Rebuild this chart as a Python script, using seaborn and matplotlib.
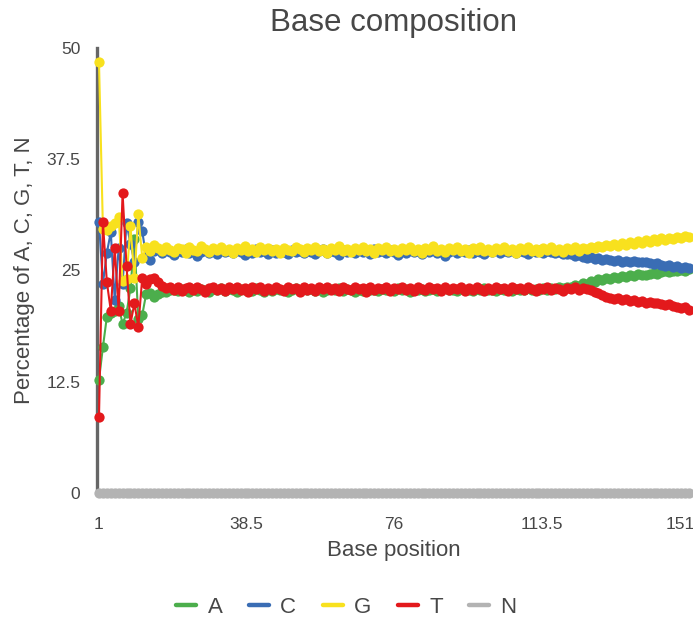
import numpy as np
import pandas as pd
import matplotlib
matplotlib.use("Agg")
import matplotlib.pyplot as plt
from matplotlib.lines import Line2D
from matplotlib.transforms import ScaledTranslation
import seaborn as sns

# Per-position base composition (%) for positions 1..151
positions = list(range(1, 152))

a_pct = [
    12.7, 16.4, 19.8, 20.2, 20.5, 21.0, 19.0, 20.2, 23.0, 28.5, 19.5, 20.0, 22.4, 22.5,
    22.0, 22.4, 22.6, 22.6, 22.8, 22.8, 22.7, 22.9, 22.8, 22.6,
    22.9, 22.7, 22.9, 22.8, 22.6, 22.9, 22.8, 23.0, 22.7, 22.9,
    22.8, 22.6, 22.9, 22.8, 22.8, 22.7, 23.0, 22.8, 22.6, 22.9,
    22.7, 22.9, 22.8, 22.8, 22.6, 22.8, 23.0, 22.7, 22.9, 22.8,
    22.9, 22.7, 22.9, 22.6, 22.8, 22.9, 22.8, 23.0, 22.7, 22.9,
    22.8, 22.6, 22.8, 22.7, 22.9, 22.8, 22.8, 22.7, 22.9, 22.8,
    22.8, 22.7, 23.0, 22.8, 22.9, 22.6, 22.8, 22.8, 22.9, 22.7,
    22.8, 22.9, 22.7, 22.8, 23.0, 22.8, 22.8, 22.7, 22.9, 22.8,
    22.8, 22.7, 22.9, 22.8, 23.0, 22.8, 22.8, 22.7, 22.9, 22.8,
    22.8, 22.7, 22.9, 22.8, 22.8, 23.0, 22.8, 22.9, 22.8, 23.0,
    22.8, 23.0, 22.9, 23.1, 23.0, 23.2, 23.1, 23.4, 23.3, 23.6,
    23.5, 23.8, 23.7, 24.0, 23.9, 24.2, 24.1, 24.3, 24.2, 24.4,
    24.3, 24.5, 24.4, 24.6, 24.5, 24.5, 24.6, 24.7, 24.6, 24.8,
    24.9, 24.8, 25.0, 25.0, 25.1, 25.0, 25.2,
]

c_pct = [
    30.4, 23.5, 27.0, 29.3, 21.7, 27.5, 23.5, 30.3, 28.0, 26.0, 30.5, 29.4, 26.5, 26.2,
    27.2, 27.4, 27.0, 27.3, 27.1, 26.7, 27.2, 27.1, 27.4, 27.0,
    27.2, 26.6, 27.1, 27.3, 27.0, 27.2, 26.9, 27.3, 27.1, 27.2,
    27.0, 27.3, 27.1, 26.7, 27.2, 27.0, 27.4, 27.1, 27.2, 26.9,
    27.3, 27.0, 27.2, 27.1, 26.9, 27.3, 27.1, 27.2, 27.0, 27.3,
    27.1, 26.9, 27.2, 27.4, 27.0, 27.2, 27.1, 26.7, 27.3, 27.1,
    27.2, 27.0, 27.3, 27.1, 27.2, 26.9, 27.4, 27.1, 27.2, 27.0,
    27.3, 27.1, 26.7, 27.2, 27.0, 27.3, 27.1, 27.2, 26.9, 27.2,
    27.1, 27.3, 27.0, 27.2, 26.6, 27.1, 27.3, 27.0, 27.2, 27.1,
    27.3, 27.0, 27.2, 27.1, 26.9, 27.2, 27.1, 27.3, 27.0, 27.2,
    27.1, 27.3, 27.0, 27.2, 27.1, 26.8, 27.2, 27.1, 27.3, 27.0,
    27.2, 27.1, 27.0, 27.1, 26.9, 26.8, 26.8, 26.6, 26.7, 26.5,
    26.4, 26.5, 26.3, 26.4, 26.2, 26.3, 26.2, 26.1, 26.2, 26.0,
    26.1, 26.0, 26.1, 25.9, 26.0, 25.9, 25.8, 25.7, 25.8, 25.6,
    25.5, 25.6, 25.4, 25.5, 25.3, 25.4, 25.3,
]

g_pct = [
    48.4, 29.7, 29.5, 30.0, 30.3, 31.0, 23.8, 24.0, 30.0, 24.2, 31.3, 26.4, 27.6, 27.2,
    27.9, 27.5, 27.2, 27.6, 27.3, 27.1, 27.5, 27.4, 27.0, 27.6,
    27.3, 27.2, 27.7, 27.4, 27.1, 27.5, 27.3, 27.6, 27.2, 27.4,
    27.0, 27.5, 27.3, 27.7, 27.2, 27.4, 27.1, 27.6, 27.3, 27.5,
    27.2, 27.4, 27.0, 27.5, 27.3, 27.2, 27.6, 27.4, 27.1, 27.5,
    27.3, 27.6, 27.2, 27.4, 27.0, 27.5, 27.3, 27.7, 27.2, 27.4,
    27.1, 27.5, 27.3, 27.6, 27.2, 27.4, 27.0, 27.5, 27.3, 27.6,
    27.2, 27.4, 27.1, 27.5, 27.3, 27.6, 27.2, 27.4, 27.0, 27.5,
    27.3, 27.7, 27.2, 27.4, 27.1, 27.5, 27.3, 27.6, 27.2, 27.4,
    27.0, 27.5, 27.3, 27.6, 27.2, 27.4, 27.1, 27.5, 27.3, 27.6,
    27.2, 27.4, 27.0, 27.5, 27.3, 27.6, 27.2, 27.4, 27.1, 27.5,
    27.3, 27.6, 27.2, 27.4, 27.1, 27.5, 27.3, 27.6, 27.2, 27.5,
    27.4, 27.6, 27.5, 27.8, 27.6, 27.9, 27.7, 28.0, 27.8, 28.1,
    27.9, 28.2, 28.0, 28.3, 28.1, 28.4, 28.2, 28.5, 28.3, 28.6,
    28.4, 28.6, 28.5, 28.8, 28.6, 28.9, 28.8,
]

t_pct = [
    8.5, 30.4, 23.7, 20.5, 27.5, 20.5, 33.7, 25.5, 19.0, 21.3, 18.7, 24.2, 23.5, 24.1,
    24.2, 23.7, 23.3, 23.0, 23.2, 22.8, 23.1, 22.7, 23.0, 23.2,
    22.8, 23.1, 22.9, 22.6, 23.0, 23.2, 22.8, 23.0, 22.7, 23.1,
    22.9, 23.2, 22.8, 23.0, 22.6, 23.1, 22.9, 23.2, 22.7, 23.0,
    22.8, 23.1, 22.9, 22.7, 23.2, 22.9, 23.0, 22.6, 23.1, 22.8,
    23.0, 22.7, 23.1, 22.9, 23.2, 22.8, 23.0, 22.7, 23.1, 22.9,
    22.8, 23.1, 22.9, 23.0, 22.6, 23.2, 22.8, 23.0, 22.9, 23.1,
    22.7, 23.0, 22.9, 23.2, 22.8, 23.0, 22.7, 23.1, 22.9, 22.8,
    23.1, 22.9, 23.0, 22.7, 23.2, 22.8, 23.0, 22.9, 23.1, 22.7,
    23.0, 22.8, 23.1, 22.9, 22.7, 23.0, 22.8, 23.1, 22.9, 23.0,
    22.7, 23.1, 22.9, 23.0, 22.8, 23.2, 22.9, 22.7, 23.0, 22.9,
    23.1, 22.8, 23.0, 22.9, 22.7, 23.0, 22.9, 23.1, 22.8, 23.0,
    22.9, 22.8, 22.6, 22.5, 22.2, 22.0, 21.9, 21.8, 21.9, 21.7,
    21.8, 21.6, 21.7, 21.5, 21.6, 21.4, 21.5, 21.3, 21.4, 21.2,
    21.1, 21.2, 21.0, 20.9, 20.8, 20.9, 20.6,
]

n_pct = [
    0, 0, 0, 0, 0, 0, 0, 0, 0, 0, 0, 0, 0, 0, 0, 0, 0, 0, 0, 0,
    0, 0, 0, 0, 0, 0, 0, 0, 0, 0, 0, 0, 0, 0, 0, 0, 0, 0, 0, 0,
    0, 0, 0, 0, 0, 0, 0, 0, 0, 0, 0, 0, 0, 0, 0, 0, 0, 0, 0, 0,
    0, 0, 0, 0, 0, 0, 0, 0, 0, 0, 0, 0, 0, 0, 0, 0, 0, 0, 0, 0,
    0, 0, 0, 0, 0, 0, 0, 0, 0, 0, 0, 0, 0, 0, 0, 0, 0, 0, 0, 0,
    0, 0, 0, 0, 0, 0, 0, 0, 0, 0, 0, 0, 0, 0, 0, 0, 0, 0, 0, 0,
    0, 0, 0, 0, 0, 0, 0, 0, 0, 0, 0, 0, 0, 0, 0, 0, 0, 0, 0, 0,
    0, 0, 0, 0, 0, 0, 0, 0, 0, 0, 0,
]

bases = ["A", "C", "G", "T", "N"]
base_colors = ["#4cae4c", "#3a6db4", "#f8e11e", "#e3191c", "#b3b3b3"]
x_ticks = [1, 38.5, 76, 113.5, 151]
x_tick_labels = ["1", "38.5", "76", "113.5", "151"]
y_ticks = [0, 12.5, 25, 37.5, 50]
y_tick_labels = ["0", "12.5", "25", "37.5", "50"]

sns.set_theme(style="white")
plt.rcParams["font.family"] = ["Liberation Sans", "DejaVu Sans"]

text_color = "#474747"

df = pd.DataFrame({
    "position": positions * len(bases),
    "pct": a_pct + c_pct + g_pct + t_pct + n_pct,
    "base": np.repeat(bases, len(positions)),
})

fig = plt.figure(figsize=(6.93, 6.25), dpi=100)
ax = fig.add_axes([0.140, 0.2112, 0.857, 0.712])

sns.lineplot(
    data=df, x="position", y="pct", hue="base", hue_order=bases,
    palette=dict(zip(bases, base_colors)), estimator=None, sort=True,
    marker="o", markersize=7.4, markeredgewidth=0, linewidth=1.5,
    legend=False, ax=ax, clip_on=False, zorder=3,
)

ax.set_xlim(0.5, 151.5)
ax.set_ylim(0, 50)
ax.set_xticks(x_ticks)
ax.set_xticklabels(x_tick_labels)
ax.set_yticks(y_ticks)
ax.set_yticklabels(y_tick_labels)

for side in ["top", "right"]:
    ax.spines[side].set_visible(False)
ax.spines["left"].set_color("#666666")
ax.spines["left"].set_linewidth(2.4)
ax.spines["bottom"].set_color("#5a5a5a")
ax.spines["bottom"].set_linewidth(2.4)

ax.tick_params(axis="both", which="major", direction="out", colors="#333333",
               labelcolor=text_color, labelsize=12.5, width=1.4)
ax.tick_params(axis="x", length=6, pad=11)
ax.tick_params(axis="y", length=7, pad=5)
ax.grid(False)

# keep the last x tick label inside the figure edge
last = ax.get_xticklabels()[-1]
last.set_horizontalalignment("right")
last.set_transform(last.get_transform() + ScaledTranslation(4 / 72, 0, fig.dpi_scale_trans))

ax.set_xlabel("Base position", fontsize=16, color=text_color, labelpad=6)
ax.set_ylabel("Percentage of A, C, G, T, N", fontsize=16, color=text_color, labelpad=8)
ax.set_title("Base composition", fontsize=22.5, color=text_color, pad=12)

handles = [Line2D([0], [0], color=c, lw=3.2) for c in base_colors]
fig.legend(handles, bases, loc="center", bbox_to_anchor=(0.5, 0.028), ncol=5,
           frameon=False, fontsize=16, labelcolor=text_color,
           handlelength=0.9, handletextpad=0.5, columnspacing=1.2)

fig.savefig("out.png", dpi=100)
